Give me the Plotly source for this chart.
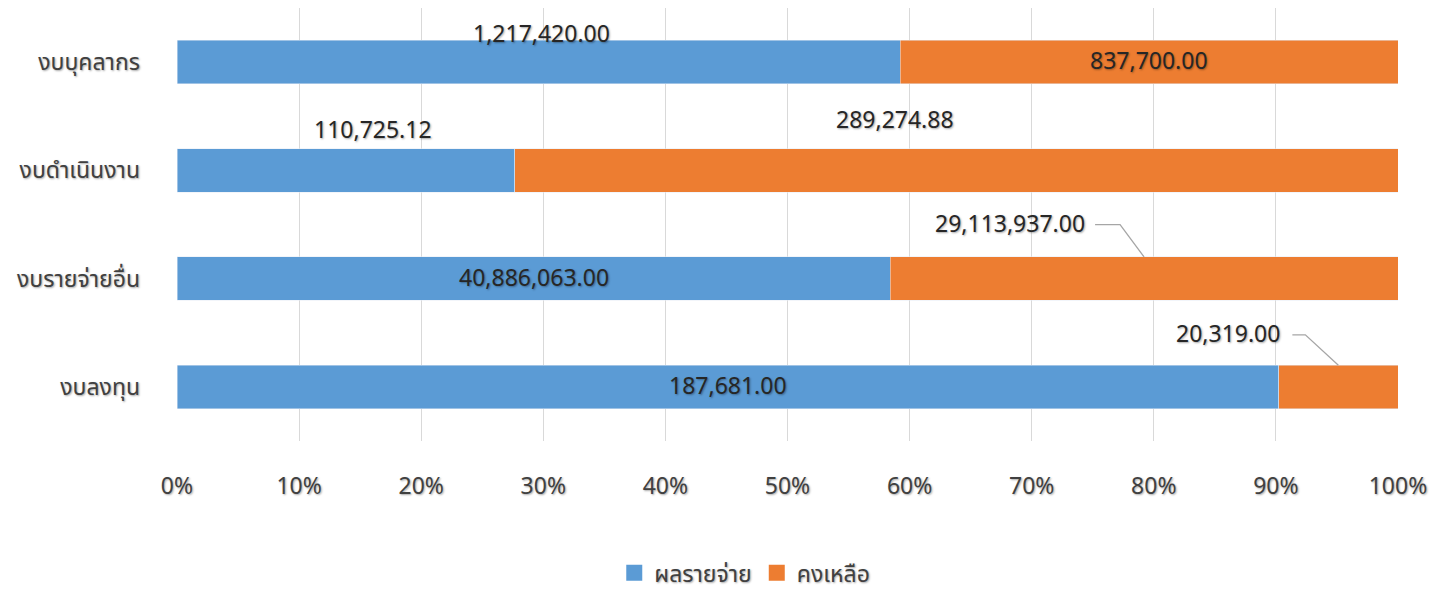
import plotly.graph_objects as go

categories = ["งบบุคลากร", "งบดำเนินงาน", "งบรายจ่ายอื่น", "งบลงทุน"]
spent = [1217420.00, 110725.12, 40886063.00, 187681.00]
remaining = [837700.00, 289274.88, 29113937.00, 20319.00]
series_names = ["ผลรายจ่าย", "คงเหลือ"]
tick_vals = [0, 10, 20, 30, 40, 50, 60, 70, 80, 90, 100]
tick_text = ["0%", "10%", "20%", "30%", "40%", "50%", "60%", "70%", "80%", "90%", "100%"]

BLUE = "#5B9BD5"
ORANGE = "#ED7D31"
FONT = "Noto Sans Thai, Leelawadee UI, Tahoma, Noto Sans, sans-serif"
SHADOW = "1px 1px 2px rgba(0,0,0,0.35)"
FS = 23

fig = go.Figure()
fig.add_trace(go.Bar(y=categories, x=spent, name=series_names[0], orientation="h",
                     marker=dict(color=BLUE), width=0.4, showlegend=False))
fig.add_trace(go.Bar(y=categories, x=remaining, name=series_names[1], orientation="h",
                     marker=dict(color=ORANGE), width=0.4, showlegend=False))
# legend entries with larger square swatches
for nm, col in zip(series_names, [BLUE, ORANGE]):
    fig.add_trace(go.Scatter(x=[None], y=[None], mode="markers", name=nm,
                             marker=dict(symbol="square", size=22, color=col)))

# label placement offsets (px) relative to segment centres
blue_place = [(3, 27), (27, 39), (0, 0), (0, 0)]
orange_place = [(0, 0), (-61, 49), None, None]
# (text right-edge shift, line start, line end, text y shift)
leader = [None, None, (-57, -49, -24, 54), (-56, -46, -33, 52)]

PLOT_W = 1221
PLOT_H = 433
annos = []
shapes = []
PX_X = 100 / PLOT_W
PX_Y = 4 / PLOT_H
for i, c in enumerate(categories):
    tot = spent[i] + remaining[i]
    bp = spent[i] / tot * 100
    bc = bp / 2
    oc = (bp + 100) / 2
    dx, dy = blue_place[i]
    annos.append(dict(x=bc, y=i, text=f"{spent[i]:,.2f}", showarrow=False,
                      xshift=dx, yshift=dy, font=dict(size=FS, color="#262626", shadow=SHADOW)))
    if orange_place[i] is not None:
        dx, dy = orange_place[i]
        annos.append(dict(x=oc, y=i, text=f"{remaining[i]:,.2f}", showarrow=False,
                          xshift=dx, yshift=dy, font=dict(size=FS, color="#262626", shadow=SHADOW)))
    else:
        ts, ls, le, dy = leader[i]
        annos.append(dict(x=oc, y=i, text=f"{remaining[i]:,.2f}", showarrow=False,
                          xanchor="right", xshift=ts, yshift=dy,
                          font=dict(size=FS, color="#262626", shadow=SHADOW)))
        xa = oc + ls * PX_X
        xb = oc + le * PX_X
        yl = i - dy * PX_Y
        shapes.append(dict(type="path", xref="x", yref="y",
                           path=f"M {xa} {yl} L {xb} {yl} L {oc} {i - 0.2}",
                           line=dict(color="#a6a6a6", width=1.3)))

fig.update_layout(
    barmode="stack",
    barnorm="percent",
    width=1448, height=592,
    margin=dict(l=169, r=58, t=0, b=159, autoexpand=False),
    paper_bgcolor="white", plot_bgcolor="white",
    font=dict(family=FONT, size=FS, color="#404040"),
    annotations=annos,
    shapes=shapes,
    legend=dict(orientation="h", x=0.465, xanchor="center", yref="container",
                y=0.046, yanchor="middle",
                font=dict(size=FS, color="#404040", shadow=SHADOW), traceorder="normal"),
    xaxis=dict(range=[0, 100], tickvals=tick_vals, ticktext=tick_text, showgrid=True,
               gridcolor="#d9d9d9", gridwidth=1.3, zeroline=False, showline=False,
               ticks="", ticklabelstandoff=29, automargin=False,
               tickfont=dict(size=FS, color="#404040", shadow=SHADOW)),
    yaxis=dict(range=[3.5, -0.5], showgrid=False, zeroline=False, showline=False,
               ticks="", ticklabelstandoff=36, automargin=False,
               tickfont=dict(size=FS, color="#404040", shadow=SHADOW)),
    bargap=0.6,
)

fig.write_html("out.html")
